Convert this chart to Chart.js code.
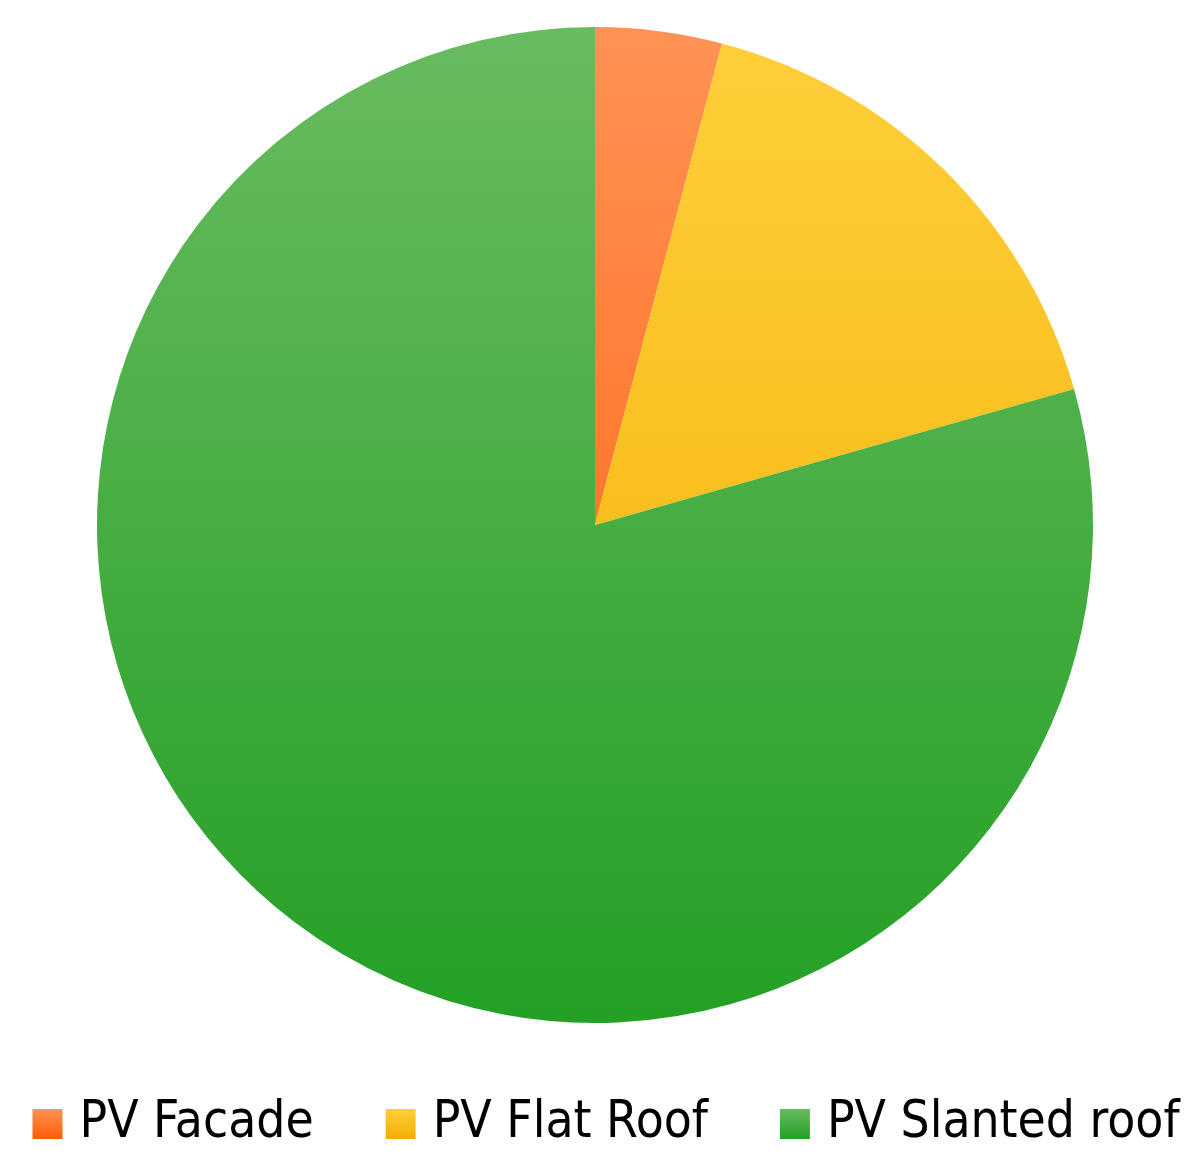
<!DOCTYPE html>
<html>
<head>
<meta charset="utf-8">
<script src="https://cdn.jsdelivr.net/npm/chart.js@4"></script>
<style>
  html, body { margin: 0; padding: 0; background: #fff; }
  #wrap { width: 1200px; height: 1169px; }
</style>
</head>
<body>
<div id="wrap"><canvas id="pv-chart"></canvas></div>
<script>
// share of PV potential per surface type (%)
const categories = ['PV Facade', 'PV Flat Roof', 'PV Slanted roof'];
const shares = [4.1, 16.5, 79.4];
const topColors = ['#ff9254', '#ffcf3a', '#69bb60'];
const bottomColors = ['#ff5c05', '#f2ae00', '#24a025'];

function sliceFill(context) {
    const chart = context.chart;
    const area = chart.chartArea;
    const i = context.dataIndex;
    if (!area) return bottomColors[i];
    const g = chart.ctx.createLinearGradient(0, 27, 0, 1023);
    g.addColorStop(0, topColors[i]);
    g.addColorStop(1, bottomColors[i]);
    return g;
}

// the built-in legend can't space items like the original, so draw it here
const bottomLegend = {
    id: 'bottomLegend',
    afterDraw(chart) {
        const c = chart.ctx;
        const labels = chart.data.labels;
        const font = '51px "DejaVu Sans Condensed"';
        const boxW = 30, boxH = 30, textGap = 17, itemGap = 72;
        const midY = 1124;
        c.save();
        c.font = font;
        const widths = labels.map(l => c.measureText(l).width);
        let total = 0;
        widths.forEach((w, i) => { total += boxW + textGap + w + (i ? itemGap : 0); });
        let x = 606 - total / 2;
        labels.forEach((label, i) => {
            const g = c.createLinearGradient(0, midY - boxH / 2, 0, midY + boxH / 2);
            g.addColorStop(0, topColors[i]);
            g.addColorStop(1, bottomColors[i]);
            c.fillStyle = g;
            c.fillRect(x, midY - boxH / 2, boxW, boxH);
            c.fillStyle = '#000';
            c.textBaseline = 'middle';
            c.textAlign = 'left';
            c.fillText(label, x + boxW + textGap, midY);
            x += boxW + textGap + widths[i] + itemGap;
        });
        c.restore();
    }
};

const ctx = document.getElementById('pv-chart').getContext('2d');
new Chart(ctx, {
    type: 'pie',
    data: {
        labels: categories,
        datasets: [{
            data: shares,
            backgroundColor: sliceFill,
            borderWidth: 0,
            radius: 498
        }]
    },
    options: {
        responsive: true,
        maintainAspectRatio: false,
        animation: false,
        layout: { padding: { top: 0, bottom: 119, left: 0, right: 10 } },
        plugins: {
            tooltip: { enabled: false },
            legend: { display: false }
        }
    },
    plugins: [bottomLegend]
});
</script>
</body>
</html>
